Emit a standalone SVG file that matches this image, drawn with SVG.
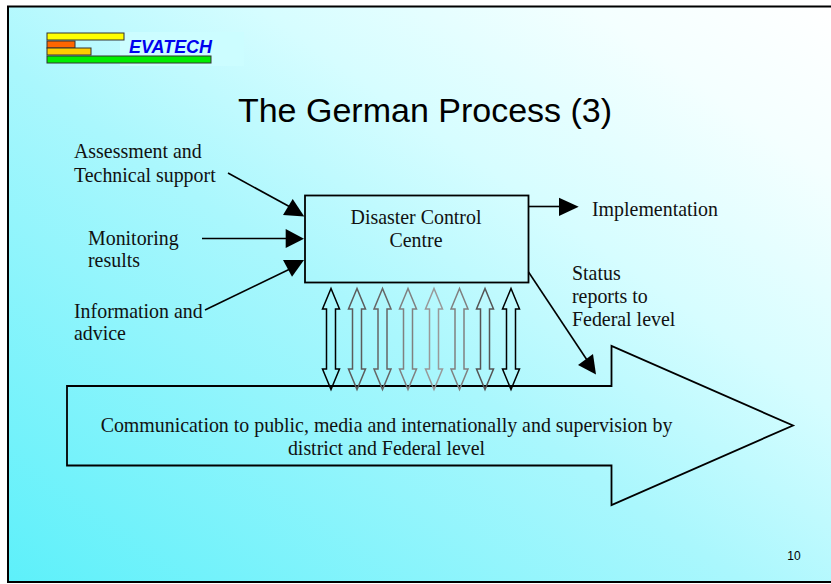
<svg xmlns="http://www.w3.org/2000/svg" width="831" height="584" viewBox="0 0 831 584">
<style>
.s{font-family:"Liberation Serif","Times New Roman",serif;font-size:19.9px;fill:#111}
.m{text-anchor:middle}
.l{fill:none;stroke:#000;stroke-width:1.6}
.h{fill:#000;stroke:none}
.d{fill:none;stroke-width:1.5}
.b{stroke:#333;stroke-width:1}
</style>
<defs>
<linearGradient id="bg" gradientUnits="userSpaceOnUse" x1="141" y1="682" x2="689" y2="-98">
<stop offset="0" stop-color="#5cf0fa"/><stop offset="0.45" stop-color="#aaf7fd"/><stop offset="0.65" stop-color="#d6fdff"/><stop offset="0.85" stop-color="#f4ffff"/><stop offset="1" stop-color="#ffffff"/>
</linearGradient>
<path id="dbl" d="M0 0L-8.500 20.500H-4.500V80.500H-8.500L0 101L8.500 80.500H4.500V20.500H8.500Z"/>
</defs>
<rect x="8" y="6.500" width="830" height="575.500" fill="url(#bg)" stroke="#000" stroke-width="2"/>
<g id="logo">
<rect x="120" y="32" width="124" height="34" fill="#ccfdff"/>
<rect x="47" y="33" width="77" height="7" fill="#ffff00" class="b"/>
<rect x="47" y="41" width="28" height="7" fill="#ff6600" class="b"/>
<rect x="47" y="48" width="44" height="7" fill="#ffcc00" class="b"/>
<rect x="47" y="56" width="164" height="7" fill="#00ee00" class="b"/>
<text x="129" y="53" style="font-family:'Liberation Sans',Arial,sans-serif;font-size:18px;font-weight:bold;font-style:italic;fill:#0000ee" textLength="83" lengthAdjust="spacingAndGlyphs">EVATECH</text>
</g>
<text id="title" x="425" y="122" text-anchor="middle" style="font-family:'Liberation Sans',Arial,sans-serif;font-size:34px;fill:#000">The German Process (3)</text>
<g id="assessment"><text class="s" x="74" y="158">Assessment and</text><text class="s" x="74" y="182">Technical support</text></g>
<g id="monitoring"><text class="s" x="88" y="245">Monitoring</text><text class="s" x="88" y="267">results</text></g>
<g id="information"><text class="s" x="74" y="318">Information and</text><text class="s" x="74" y="340">advice</text></g>
<g id="centre"><rect x="305" y="195.500" width="223.500" height="87" fill="none" stroke="#000" stroke-width="1.800"/>
<text class="s m" x="416" y="224">Disaster Control</text><text class="s m" x="416" y="247">Centre</text></g>
<g id="implementation"><text class="s" x="592" y="216">Implementation</text></g>
<g id="status"><text class="s" x="572" y="280">Status</text><text class="s" x="572" y="303">reports to</text><text class="s" x="572" y="326">Federal level</text></g>
<g id="communication">
<path d="M67 386H611.500V346L793 425.500L611.500 505V465.500H67Z" fill="none" stroke="#000" stroke-width="1.800"/>
<text class="s m" x="386.500" y="432">Communication to public, media and internationally and supervision by</text>
<text class="s m" x="386.500" y="455">district and Federal level</text>
</g>
<g id="connectors">
<path class="l" d="M228 173L292 208"/><path class="h" d="M304.300 216.500L283 215L292.700 199Z"/>
<path class="l" d="M202 238.500H288"/><path class="h" d="M304 238.700L285.700 229V248Z"/>
<path class="l" d="M205 310L292 268"/><path class="h" d="M304 260L292 276.700L283 260Z"/>
<path class="l" d="M529 206.500H560"/><path class="h" d="M578.700 206.700L559 197.700V216Z"/>
<path class="l" d="M528.500 272L587 360"/><path class="h" d="M596 374.500L578 365L593 354Z"/>
<use href="#dbl" x="331" y="288.500" class="d" stroke="#000"/>
<use href="#dbl" x="357" y="288.500" class="d" stroke="#5c5c5c"/>
<use href="#dbl" x="382.500" y="288.500" class="d" stroke="#666"/>
<use href="#dbl" x="408" y="288.500" class="d" stroke="#808080"/>
<use href="#dbl" x="434" y="288.500" class="d" stroke="#999"/>
<use href="#dbl" x="459.500" y="288.500" class="d" stroke="#808080"/>
<use href="#dbl" x="485" y="288.500" class="d" stroke="#555"/>
<use href="#dbl" x="511" y="288.500" class="d" stroke="#000"/>
</g>
<text id="page" x="794" y="560" text-anchor="middle" style="font-family:'Liberation Sans',Arial,sans-serif;font-size:12px;fill:#000">10</text>
</svg>
